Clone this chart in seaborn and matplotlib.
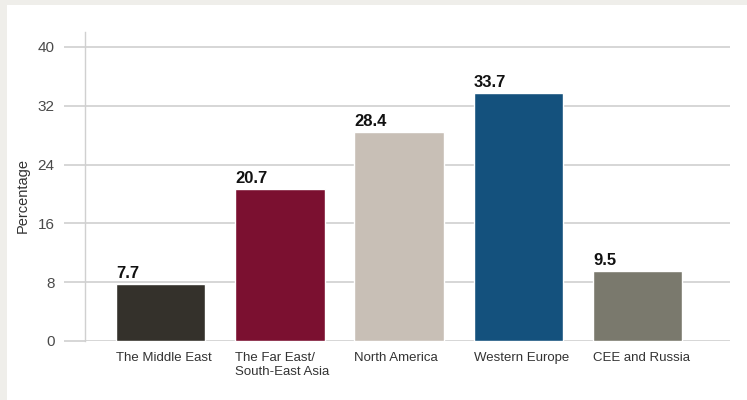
import matplotlib
matplotlib.use("Agg")
import matplotlib.pyplot as plt
import matplotlib.patches as mpatches
import seaborn as sns
import pandas as pd

regions = ["The Middle East", "The Far East/\nSouth-East Asia", "North America",
           "Western Europe", "CEE and Russia"]
values = [7.7, 20.7, 28.4, 33.7, 9.5]
colors = ["#34312b", "#7b1030", "#c8bfb6", "#14517d", "#7a796d"]
yticks = [0, 8, 16, 24, 32, 40]


def main():
    sns.set_style("white")
    plt.rcParams["font.family"] = ["Liberation Sans", "DejaVu Sans"]

    df = pd.DataFrame({"Region": regions, "Value": values})

    fig = plt.figure(figsize=(7.47, 4.0), dpi=100, facecolor="#efeeea")
    # white panel inside the grey frame
    panel = mpatches.Rectangle((7 / 747, 0), 1, 1 - 5 / 400,
                               transform=fig.transFigure,
                               facecolor="white", edgecolor="none", zorder=-10)
    fig.add_artist(panel)
    ax = fig.add_axes([85 / 747, 1 - 341 / 400, (730 - 85) / 747, (341 - 32) / 400])
    ax.set_facecolor("none")

    width = 0.75
    sns.barplot(data=df, x="Region", y="Value", hue="Region", palette=colors,
                legend=False, width=width, saturation=1, ax=ax, zorder=3)

    ax.set_ylim(0, 42.04)
    ax.set_xlim(-0.633, 4.774)
    ax.set_yticks(yticks)
    ax.set_yticklabels([str(t) for t in yticks], fontsize=11, color="#4a4a4a")
    ax.yaxis.grid(True, color="#cfcfcf", linewidth=1.2, zorder=0)
    ax.tick_params(axis="y", left=True, length=15, color="#cfcfcf", width=1.2, pad=7)

    ax.set_xticks([i - width / 2 for i in range(len(regions))])
    ax.set_xticklabels(regions, fontsize=9.5, color="#333333", ha="left",
                       va="top", multialignment="left")
    ax.tick_params(axis="x", length=0, pad=8)

    for s in ["top", "right", "bottom"]:
        ax.spines[s].set_visible(False)
    ax.spines["left"].set_color("#d0d0d0")
    ax.spines["left"].set_linewidth(1)

    ax.set_xlabel("")
    ax.set_ylabel("Percentage", fontsize=10.5, color="#333333")
    ax.yaxis.set_label_coords(-0.086, 0.47)

    for i, v in enumerate(values):
        ax.text(i - width / 2, v + 0.45, f"{v:.1f}", ha="left", va="bottom",
                fontsize=12, fontweight="bold", color="#111111")

    fig.savefig("out.png", dpi=100, facecolor=fig.get_facecolor())
    plt.close(fig)


if __name__ == "__main__":
    main()
